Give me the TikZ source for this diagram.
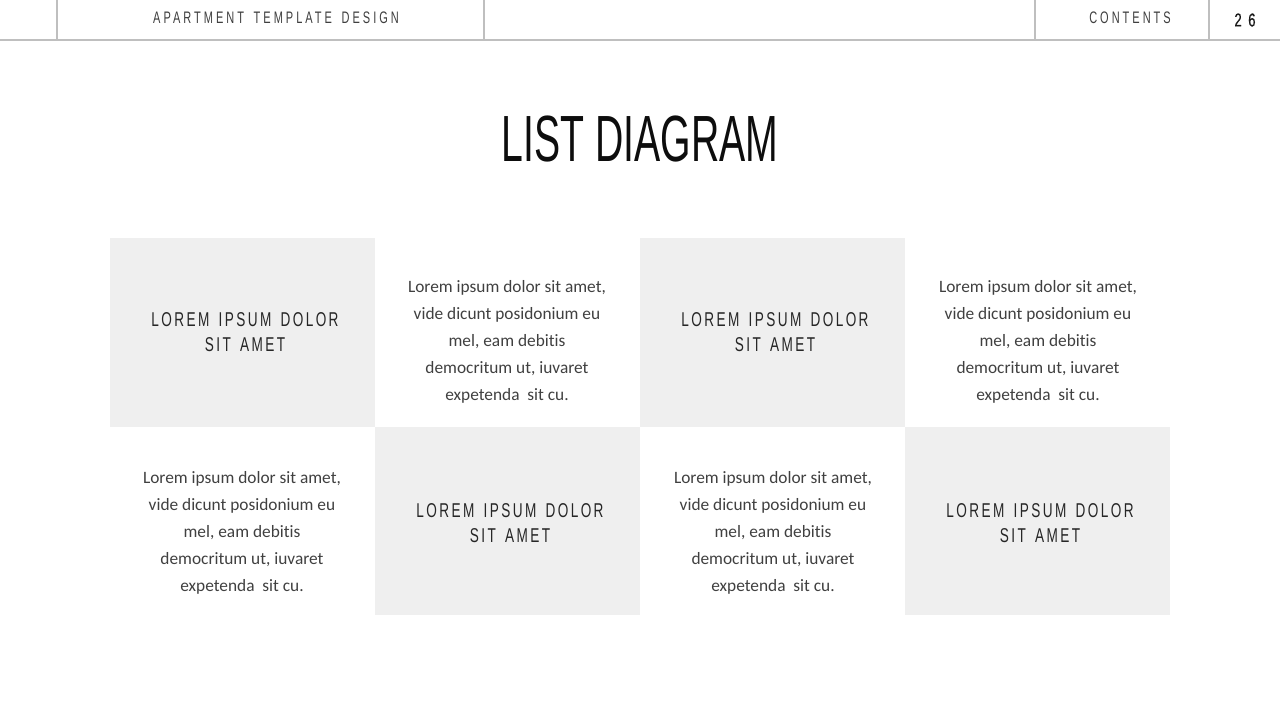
\documentclass[tikz,border=0pt]{standalone}
\usepackage{fontspec}
\setmainfont[Ligatures=NoCommon]{Carlito}
\newfontfamily\oswtitle[FakeStretch=0.6]{Liberation Sans}
\newfontfamily\oswbox[FakeStretch=0.68,LetterSpace=12,WordSpace=1.5]{Liberation Sans}
\newfontfamily\oswhead[FakeStretch=0.66,LetterSpace=18,WordSpace=1.6]{Liberation Sans}
\newfontfamily\oswnum[FakeStretch=0.7,FakeBold=0.4,LetterSpace=35]{Liberation Sans}
\definecolor{rule}{HTML}{BFBFBF}
\definecolor{headtxt}{HTML}{3F3F3F}
\definecolor{boxfill}{HTML}{EFEFEF}
\definecolor{boxtxt}{HTML}{262626}
\definecolor{bodytxt}{HTML}{404040}
\tikzset{
  hline/.style={draw=rule, line width=0.9pt},
  headlabel/.style={font=\oswhead\fontsize{12.5}{14}\selectfont, text=headtxt, inner sep=0pt},
  graybox/.style={fill=boxfill, draw=none},
  boxlabel/.style={font=\oswbox\fontsize{15}{18.7}\selectfont, text=boxtxt, align=center, inner sep=0pt},
  bodylabel/.style={font=\fontsize{13}{20.25}\selectfont, text=bodytxt, align=center, inner sep=0pt}
}
\begin{document}
\begin{tikzpicture}[x=0.75pt,y=-0.75pt]
\useasboundingbox (0,0) rectangle (1280,720);
\fill[white] (0,0) rectangle (1280,720);
% header
\coordinate (hl) at (0,40);
\coordinate (hr) at (1280,40);
\draw[hline] (hl) -- (hr);
\foreach \x/\n in {57/a,484/b,1035/c,1209/d}{
  \coordinate (t\n) at (\x,0);
  \coordinate (b\n) at (\x,40);
  \draw[hline] (t\n) -- (b\n);
}
\node[headlabel] (h1) at (276,18) {APARTMENT TEMPLATE DESIGN};
\node[headlabel] (h2) at (1130,18) {CONTENTS};
\node[font=\oswnum\fontsize{14}{15}\selectfont, text=black!90, inner sep=0pt] (h3) at (1245,20) {26};
% title
\node[font=\oswtitle\fontsize{49}{55}\selectfont, text=black!95, inner sep=0pt] (title) at (640,139) {LIST DIAGRAM};
% boxes
\path[graybox] (110,238) rectangle (375,427);
\path[graybox] (640,238) rectangle (905,427);
\path[graybox] (375,427) rectangle (640,615);
\path[graybox] (905,427) rectangle (1170,615);
\node[boxlabel] (l1) at (245,332) {LOREM IPSUM DOLOR\\SIT AMET};
\node[boxlabel] (l2) at (775,332) {LOREM IPSUM DOLOR\\SIT AMET};
\node[boxlabel] (l3) at (510,523) {LOREM IPSUM DOLOR\\SIT AMET};
\node[boxlabel] (l4) at (1040,523) {LOREM IPSUM DOLOR\\SIT AMET};
\newcommand{\bodytext}{Lorem ipsum dolor sit amet,\\vide dicunt posidonium eu\\mel, eam debitis\\democritum ut, iuvaret\\expetenda\ \ sit cu.}
\node[bodylabel] (t1) at (507,341.5) {\bodytext};
\node[bodylabel] (t2) at (1038,341.5) {\bodytext};
\node[bodylabel] (t3) at (242,532.5) {\bodytext};
\node[bodylabel] (t4) at (773,532.5) {\bodytext};
\end{tikzpicture}
\end{document}
